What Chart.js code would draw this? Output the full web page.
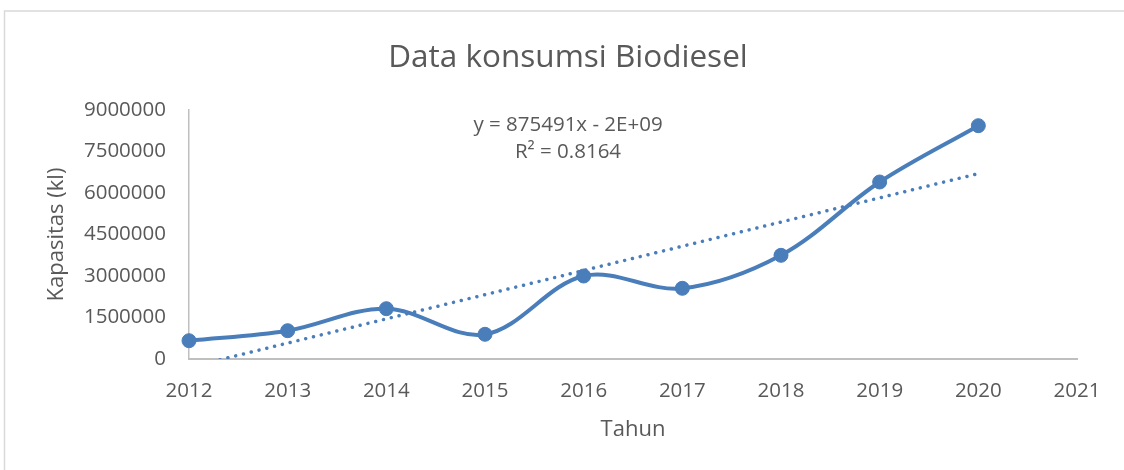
<!DOCTYPE html>
<html>
<head>
<meta charset="utf-8">
<script src="https://cdn.jsdelivr.net/npm/chart.js@4.4.1/dist/chart.umd.min.js"></script>
<style>
  html, body { margin: 0; padding: 0; background: #ffffff; }
  #wrap { width: 1124px; height: 470px; position: relative; }
</style>
</head>
<body>
<div id="wrap"><canvas id="c" width="1124" height="470"></canvas></div>
<script>
// ---- data ----
const years = [2012, 2013, 2014, 2015, 2016, 2017, 2018, 2019, 2020];
const consumption = [661000, 1023000, 1818000, 893000, 3000000, 2555000, 3748000, 6398000, 8433000];
const trendYears = [2012, 2020];
const trendValues = [-300000, 6700000];
const equationLines = ['y = 875491x - 2E+09', 'R\u00B2 = 0.8164'];
const chartTitle = 'Data konsumsi Biodiesel';
const xTitle = 'Tahun';
const yTitle = 'Kapasitas (kl)';
const xMin = 2012, xMax = 2021, xStep = 1;
const yMin = 0, yMax = 9000000, yStep = 1500000;

const BLUE = '#4a7ebb';
const TEXT = '#595959';
const FONT = "'Open Sans', 'DejaVu Sans', sans-serif";

const frame = {
  id: 'frame',
  beforeDraw(chart) {
    const ctx = chart.ctx;
    ctx.save();
    ctx.fillStyle = '#ffffff';
    ctx.fillRect(0, 0, chart.width, chart.height);
    ctx.strokeStyle = '#d9d9d9';
    ctx.lineWidth = 1.5;
    ctx.strokeRect(4.5, 11, chart.width + 20, chart.height + 20);
    ctx.restore();
  },
  afterDraw(chart) {
    const ctx = chart.ctx;
    ctx.save();
    ctx.fillStyle = TEXT;
    ctx.font = "20.5px " + FONT;
    ctx.textAlign = 'center';
    ctx.textBaseline = 'middle';
    ctx.fillText(equationLines[0], 568, 125);
    ctx.fillText(equationLines[1], 568, 152);
    ctx.restore();
  }
};

function build() {
  new Chart(document.getElementById('c'), {
    type: 'scatter',
    data: {
      datasets: [
        {
          label: 'Linear',
          data: trendYears.map((x, i) => ({ x: x, y: trendValues[i] })),
          showLine: true,
          borderColor: BLUE,
          borderWidth: 3.5,
          borderDash: [0.01, 8],
          borderCapStyle: 'round',
          pointRadius: 0,
          pointHoverRadius: 0,
          tension: 0,
          clip: 0
        },
        {
          label: 'Konsumsi',
          data: years.map((x, i) => ({ x: x, y: consumption[i] })),
          showLine: true,
          borderColor: BLUE,
          backgroundColor: BLUE,
          borderWidth: 4,
          pointRadius: 7,
          pointBackgroundColor: BLUE,
          pointBorderColor: BLUE,
          pointBorderWidth: 1,
          tension: 0.35,
          clip: false
        }
      ]
    },
    options: {
      responsive: false,
      animation: false,
      events: [],
      layout: { padding: { left: 59, right: 47, top: 0, bottom: 0 } },
      plugins: {
        legend: { display: false },
        tooltip: { enabled: false },
        title: {
          display: true,
          text: chartTitle,
          color: TEXT,
          font: { family: FONT, size: 31.5, weight: 'normal', lineHeight: 1.2 },
          padding: { top: 39.6, bottom: 32.6 }
        }
      },
      scales: {
        x: {
          type: 'linear',
          min: xMin, max: xMax,
          afterFit(s) { s.height = 111; },
          grid: { display: false, drawTicks: false },
          border: { display: true, color: '#bfbfbf', width: 2 },
          ticks: {
            stepSize: xStep,
            padding: 20,
            color: TEXT,
            font: { family: FONT, size: 20.5 },
            callback: v => String(v)
          },
          title: {
            display: true,
            text: xTitle,
            color: TEXT,
            font: { family: FONT, size: 22, lineHeight: 1.2 },
            padding: { top: 0, bottom: 27 }
          }
        },
        y: {
          type: 'linear',
          min: yMin, max: yMax,
          afterFit(s) { s.width = 130; },
          grid: { display: false, drawTicks: false },
          border: { display: true, color: '#bfbfbf', width: 1.5 },
          ticks: {
            stepSize: yStep,
            padding: 23,
            color: TEXT,
            font: { family: FONT, size: 20.5 },
            callback: v => String(v)
          },
          title: {
            display: true,
            text: yTitle,
            color: TEXT,
            font: { family: FONT, size: 22, lineHeight: 1.2 },
            padding: { top: -15.7, bottom: 0 }
          }
        }
      }
    },
    plugins: [frame]
  });
}

if (document.fonts && document.fonts.load) {
  Promise.all([
    document.fonts.load("20px 'Open Sans'"),
    document.fonts.load("31px 'Open Sans'")
  ]).then(build, build);
} else {
  build();
}
</script>
</body>
</html>
